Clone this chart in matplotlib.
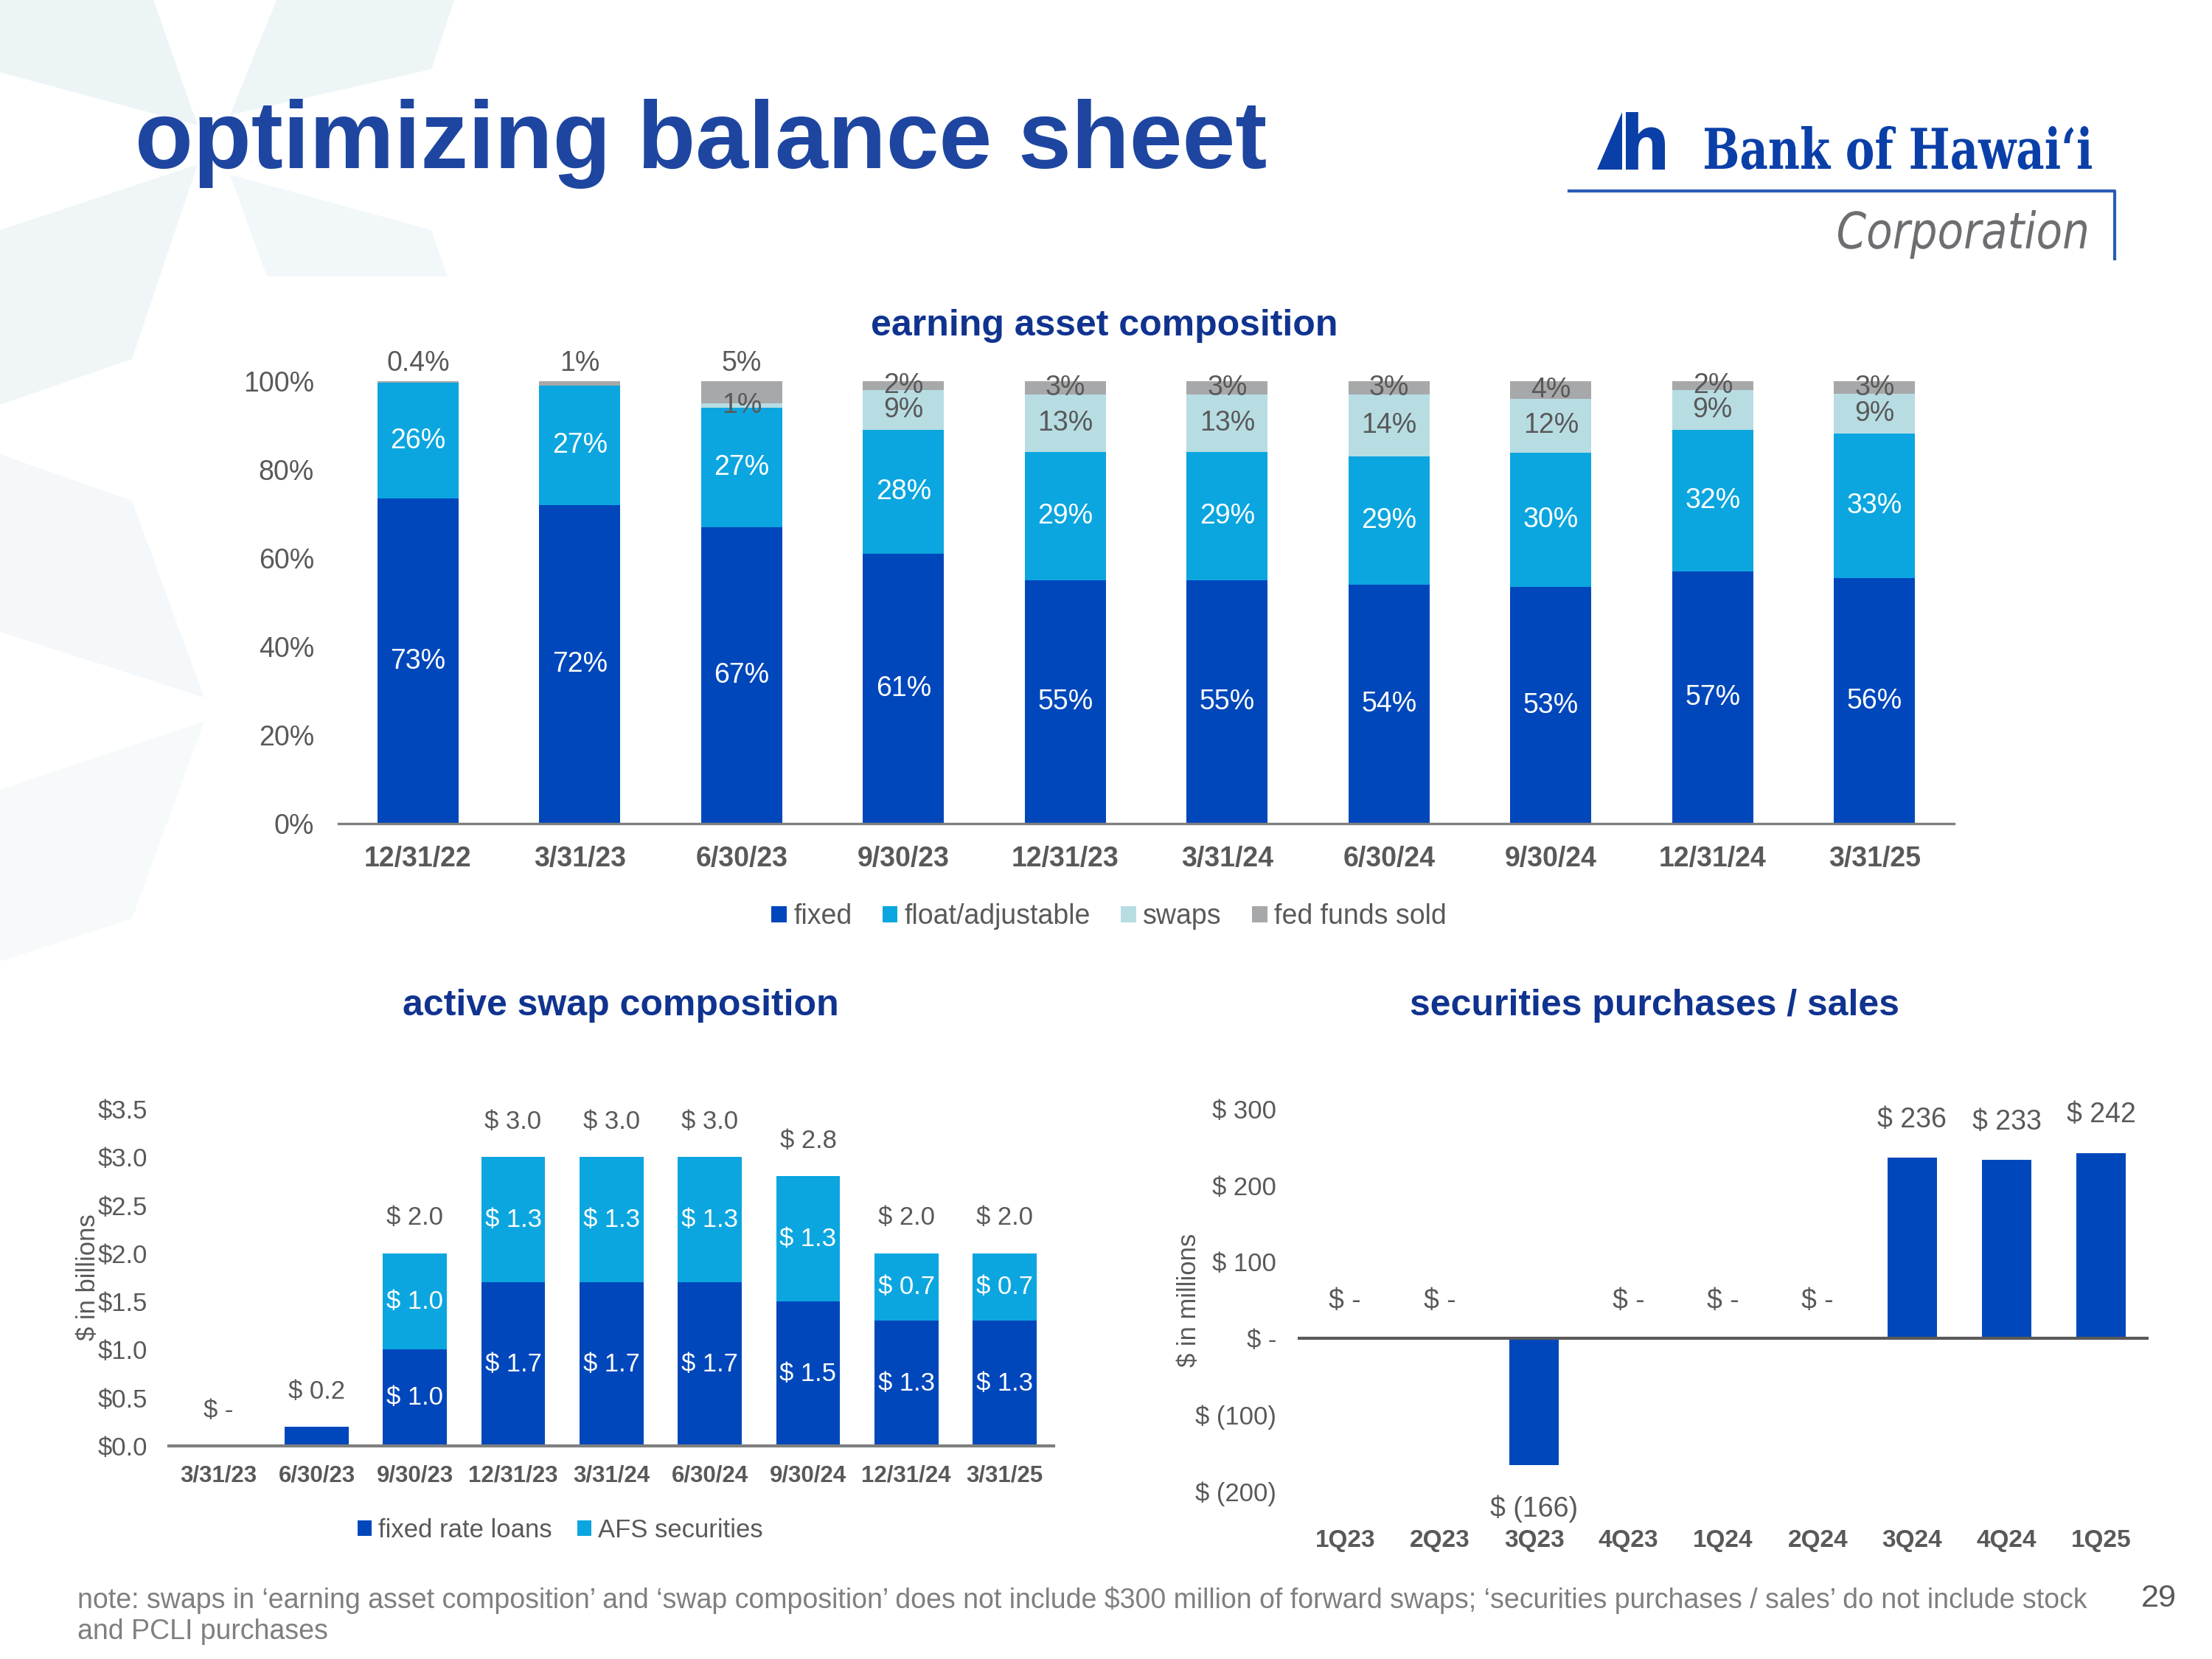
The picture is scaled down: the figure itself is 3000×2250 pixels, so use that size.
import numpy as np
import matplotlib.pyplot as plt
from matplotlib.patches import Polygon, PathPatch, Patch
from matplotlib.textpath import TextPath
from matplotlib.font_manager import FontProperties
from matplotlib.transforms import Affine2D

plt.rcParams['font.family'] = ['Liberation Sans', 'DejaVu Sans']

# earning asset composition (% of earning assets)
dates = ['12/31/22', '3/31/23', '6/30/23', '9/30/23', '12/31/23',
         '3/31/24', '6/30/24', '9/30/24', '12/31/24', '3/31/25']
fixed = [73, 72, 67, 61, 55, 55, 54, 53, 57, 56]
floating = [26, 27, 27, 28, 29, 29, 29, 30, 32, 33]
swaps = [0, 0, 1, 9, 13, 13, 14, 12, 9, 9]
fed_funds = [0.4, 1, 5, 2, 3, 3, 3, 4, 2, 3]

# active swap composition ($ billions)
swap_dates = ['3/31/23', '6/30/23', '9/30/23', '12/31/23', '3/31/24',
              '6/30/24', '9/30/24', '12/31/24', '3/31/25']
fixed_loans = [0, 0.2, 1.0, 1.7, 1.7, 1.7, 1.5, 1.3, 1.3]
afs = [0, 0, 1.0, 1.3, 1.3, 1.3, 1.3, 0.7, 0.7]

# securities purchases / sales ($ millions)
quarters = ['1Q23', '2Q23', '3Q23', '4Q23', '1Q24', '2Q24', '3Q24', '4Q24', '1Q25']
purchases = [0, 0, -166, 0, 0, 0, 236, 233, 242]

C_FIXED = '#0047BB'
C_FLOAT = '#0BA6DF'
C_SWAP = '#B7DDE3'
C_FED = '#A7A8AA'
TXT = '#595959'
NAVY = '#10338F'

fig = plt.figure(figsize=(10, 7.5), dpi=300)

# ---- background layer in pixel coords (y measured from top) ----
bg = fig.add_axes([0, 0, 1, 1])
bg.set_xlim(0, 3000)
bg.set_ylim(2250, 0)
bg.axis('off')

shapes = [
    [(0, 0), (208, 0), (268, 170), (0, 98)],
    [(375, 0), (616, 0), (585, 94), (312, 156)],
    [(0, 312), (268, 223), (179, 487), (0, 549)],
    [(312, 237), (585, 312), (607, 375), (362, 375)],
    [(0, 616), (179, 679), (277, 946), (0, 857)],
    [(0, 1071), (277, 978), (179, 1246), (0, 1304)],
]
for i, pts in enumerate(shapes):
    bg.add_patch(Polygon(pts, closed=True, facecolor='#E6F1F4',
                         alpha=0.75 - 0.08 * i, edgecolor='none'))


def fit_text(ax, s, box, prop, color):
    # draw text as a path stretched into box (x0, x1, ytop, ybottom)
    tp = TextPath((0, 0), s, size=1, prop=prop)
    ext = tp.get_extents()
    x0, x1, yt, yb = box
    sx = (x1 - x0) / ext.width
    sy = (yb - yt) / ext.height
    tr = Affine2D().translate(-ext.x0, -ext.y0).scale(sx, -sy).translate(x0, yb)
    ax.add_patch(PathPatch(tr.transform_path(tp), facecolor=color,
                           edgecolor='none'))


# logo
LOGO = '#0A3FA8'
bg.add_patch(Polygon([(2166, 230), (2193, 168), (2200, 152), (2200, 230)],
                     closed=True, facecolor=LOGO, edgecolor='none'))
fit_text(bg, 'h', (2205, 2258, 152, 230),
         FontProperties(family='DejaVu Sans', weight='bold'), LOGO)
fit_text(bg, 'Bank of Hawai\u2018i', (2312, 2837, 171, 230),
         FontProperties(family='DejaVu Serif', weight='bold'), LOGO)
bg.plot([2128, 2868, 2868], [259, 259, 351], color='#2A5DB5', lw=1.0)
fit_text(bg, 'Corporation', (2493, 2830, 285, 351),
         FontProperties(family='DejaVu Sans', style='oblique'), '#6D6E71')

fig.text(0.061, 0.8987, 'optimizing balance sheet', fontsize=31,
         fontweight='bold', color='#1E46A0', va='baseline', ha='left')

# ---- earning asset composition ----
ax = fig.add_axes([0.1531, 0.5034, 0.7302, 0.2670])
ax.set_facecolor('none')
x = np.arange(len(dates))
total = np.array(fixed) + np.array(floating) + np.array(swaps) + np.array(fed_funds)
bottom = np.zeros(len(dates))
series = [(fixed, C_FIXED, 'fixed', 'white'),
          (floating, C_FLOAT, 'float/adjustable', 'white'),
          (swaps, C_SWAP, 'swaps', TXT),
          (fed_funds, C_FED, 'fed funds sold', TXT)]
for vals, col, name, tcol in series:
    h = np.array(vals) / total * 100
    ax.bar(x, h, 0.5, bottom=bottom, color=col, label=name)
    for i in range(len(x)):
        if vals[i] == 0:
            continue
        y = bottom[i] + h[i] / 2
        if name == 'fed funds sold' and swaps[i] < 2:
            y = 104
        ax.text(x[i], y, f'{vals[i]:g}%', ha='center', va='center',
                fontsize=9, color=tcol, clip_on=False)
    bottom += h

ax.set_xlim(-0.49, len(dates) - 0.51)
ax.set_ylim(0, 100)
ax.set_yticks(np.arange(0, 101, 20))
ax.set_yticklabels([f'{v}%' for v in range(0, 101, 20)])
ax.set_xticks(x)
ax.set_xticklabels(dates, fontweight='bold')
ax.tick_params(axis='both', length=0, labelsize=9, colors=TXT)
ax.tick_params(axis='y', pad=8)
ax.tick_params(axis='x', pad=7)
for s in ['top', 'right', 'left']:
    ax.spines[s].set_visible(False)
ax.spines['bottom'].set_color('#7F7F7F')
ax.spines['bottom'].set_linewidth(0.8)

fig.text(0.4994, 0.8035, 'earning asset composition', fontsize=12,
         fontweight='bold', color=NAVY, ha='center', va='center')
handles = [Patch(facecolor=c, label=n) for _, c, n, _ in series]
fig.legend(handles=handles, loc='center', bbox_to_anchor=(0.5013, 0.4475),
           ncol=4, frameon=False, fontsize=9, labelcolor=TXT,
           handlelength=0.55, handleheight=0.55, handletextpad=0.25,
           columnspacing=1.1)

# ---- active swap composition ----
ax2 = fig.add_axes([0.0765, 0.1284, 0.3999, 0.2032])
ax2.set_facecolor('none')
xs = np.arange(len(swap_dates))
fl = np.array(fixed_loans)
af = np.array(afs)
ax2.bar(xs, fl, 0.65, color=C_FIXED, label='fixed rate loans')
ax2.bar(xs, af, 0.65, bottom=fl, color=C_FLOAT, label='AFS securities')
for i in range(len(xs)):
    if fl[i] >= 0.5:
        ax2.text(xs[i], fl[i] / 2, f'$ {fl[i]:.1f}', ha='center', va='center',
                 fontsize=8.3, color='white')
    if af[i] >= 0.5:
        ax2.text(xs[i], fl[i] + af[i] / 2, f'$ {af[i]:.1f}', ha='center',
                 va='center', fontsize=8.3, color='white')
    tot = fl[i] + af[i]
    lab = f'$ {tot:.1f}' if tot > 0 else '$ -'
    ax2.annotate(lab, (xs[i], tot), xytext=(0, 11.5), textcoords='offset points',
                 ha='center', va='center', fontsize=8.3, color=TXT)
ax2.set_xlim(-0.5, len(swap_dates) - 0.5)
ax2.set_ylim(0, 3.5)
ax2.set_yticks(np.arange(0, 3.51, 0.5))
ax2.set_yticklabels([f'${v:.1f}' for v in np.arange(0, 3.51, 0.5)])
ax2.set_xticks(xs)
ax2.set_xticklabels(swap_dates, fontweight='bold', fontsize=7.5)
ax2.tick_params(axis='both', length=0, colors=TXT)
ax2.tick_params(axis='y', labelsize=8.3, pad=7)
ax2.tick_params(axis='x', pad=6)
for s in ['top', 'right', 'left']:
    ax2.spines[s].set_visible(False)
ax2.spines['bottom'].set_color('#7F7F7F')
ax2.spines['bottom'].set_linewidth(1.0)
ax2.set_ylabel('$ in billions', fontsize=8.3, color=TXT)
ax2.yaxis.set_label_coords(-0.078, 0.5)

fig.text(0.2806, 0.3937, 'active swap composition', fontsize=12,
         fontweight='bold', color=NAVY, ha='center', va='center')
fig.legend(handles=[Patch(facecolor=C_FIXED, label='fixed rate loans'),
                    Patch(facecolor=C_FLOAT, label='AFS securities')],
           loc='center', bbox_to_anchor=(0.2532, 0.0775), ncol=2,
           frameon=False, fontsize=8.3, labelcolor=TXT,
           handlelength=0.55, handleheight=0.55, handletextpad=0.25,
           columnspacing=1.0)

# ---- securities purchases / sales ----
ax3 = fig.add_axes([0.5867, 0.1012, 0.3846, 0.2304])
ax3.set_facecolor('none')
xq = np.arange(len(quarters))
ax3.bar(xq, purchases, 0.52, color=C_FIXED)
ax3.axhline(0, color='#595959', lw=1.0)
for i, v in enumerate(purchases):
    if v > 0:
        lab, off = f'$ {v:,.0f}', 12.4
    elif v < 0:
        lab, off = f'$ ({-v:,.0f})', -14.3
    else:
        lab, off = '$ -', 12.0
    ax3.annotate(lab, (xq[i], v), xytext=(0, off), textcoords='offset points',
                 ha='center', va='center', fontsize=9, color=TXT)
ax3.set_xlim(-0.5, len(quarters) - 0.5)
ax3.set_ylim(-200, 300)
yt = np.arange(-200, 301, 100)
ax3.set_yticks(yt)
ax3.set_yticklabels([f'$ {v}' if v > 0 else ('$ -' if v == 0 else f'$ ({-v})')
                     for v in yt])
ax3.set_xticks(xq)
ax3.set_xticklabels(quarters, fontweight='bold', fontsize=8)
ax3.tick_params(axis='both', length=0, colors=TXT)
ax3.tick_params(axis='y', labelsize=8.3, pad=7)
ax3.tick_params(axis='x', pad=12.5)
for s in ax3.spines.values():
    s.set_visible(False)
ax3.set_ylabel('$ in millions', fontsize=8.3, color=TXT)
ax3.yaxis.set_label_coords(-0.114, 0.5)

fig.text(0.7481, 0.3937, 'securities purchases / sales', fontsize=12,
         fontweight='bold', color=NAVY, ha='center', va='center')

# ---- footnote / page number ----
fig.text(0.0351, 0.026,
         'note: swaps in \u2018earning asset composition\u2019 and \u2018swap composition\u2019 '
         'does not include $300 million of forward swaps; \u2018securities purchases / sales\u2019 '
         'do not include stock\nand PCLI purchases',
         fontsize=9, color='#7F7F7F', ha='left', va='center', linespacing=1.2)
fig.text(0.9758, 0.0366, '29', fontsize=10.4, color=TXT, ha='center', va='center')

fig.savefig('out.png', dpi=300)
